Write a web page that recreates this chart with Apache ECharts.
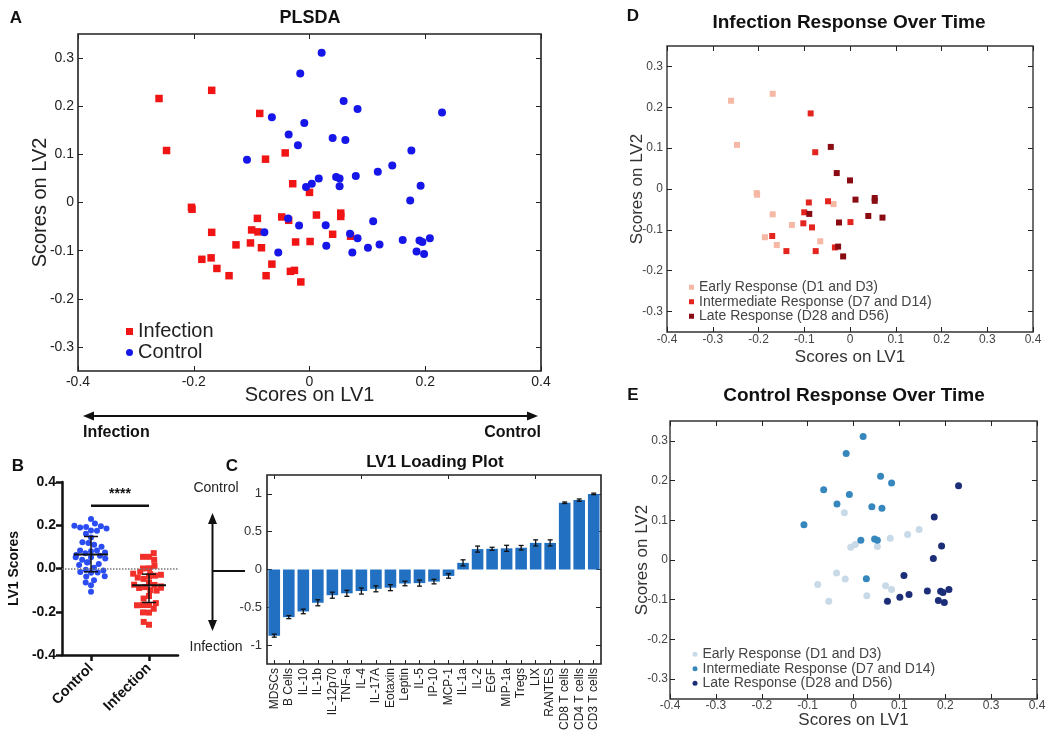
<!DOCTYPE html>
<html><head><meta charset="utf-8">
<script src="https://cdn.jsdelivr.net/npm/echarts@6/dist/echarts.min.js"></script>
<style>html,body{margin:0;padding:0;background:#fff}#c{width:1050px;height:735px}</style>
</head><body><div id="c"></div>
<script>
// ---------- DATA ----------
// Infection samples: [LV1, LV2] by time group
const infEarly = [[-0.260,0.216],[-0.169,0.233],[-0.247,0.108],[-0.204,-0.010],[-0.203,-0.014],[-0.169,-0.062],[-0.127,-0.088],[-0.186,-0.118],[-0.160,-0.137],[-0.065,-0.128],[-0.036,-0.037]];
const infInter = [[-0.086,0.185],[-0.076,0.090],[-0.090,-0.033],[-0.048,-0.030],[-0.100,-0.057],[-0.102,-0.084],[-0.083,-0.094],[-0.170,-0.115],[-0.139,-0.152],[-0.075,-0.152],[0.001,-0.081],[-0.033,-0.143]];
const infLate = [[-0.042,0.103],[-0.029,0.039],[0.000,0.021],[0.012,-0.026],[0.054,-0.022],[0.054,-0.029],[0.040,-0.066],[0.071,-0.070],[-0.089,-0.061],[-0.024,-0.082],[-0.026,-0.141],[-0.015,-0.165]];
// Control samples
const ctlEarly = [[-0.020,0.119],[0.143,0.077],[0.118,0.064],[0.080,0.055],[-0.006,0.032],[0.004,0.039],[0.052,0.034],[-0.037,-0.033],[-0.018,-0.048],[-0.078,-0.062],[0.070,-0.065],[0.083,-0.074],[-0.054,-0.104],[0.029,-0.090]];
const ctlInter = [[0.021,0.311],[-0.016,0.268],[0.059,0.211],[0.083,0.194],[-0.065,0.177],[-0.009,0.165],[-0.036,0.141],[0.040,0.134],[0.062,0.130],[-0.108,0.089],[0.016,0.050],[0.046,0.053],[0.052,0.050],[0.028,-0.047]];
const ctlLate = [[0.229,0.187],[0.176,0.108],[0.192,0.035],[0.174,0.004],[0.110,-0.039],[0.161,-0.078],[0.190,-0.079],[0.195,-0.082],[0.208,-0.074],[0.121,-0.087],[0.101,-0.094],[0.074,-0.104],[0.185,-0.102],[0.198,-0.107]];
const groupLabels = ['Early Response (D1 and D3)','Intermediate Response (D7 and D14)','Late Response (D28 and D56)'];

// Panel B summary (center line, lower whisker, upper whisker)
const bCats = ['Control','Infection'];
const bCenter = [0.065,-0.077];
const bLow = [-0.015,-0.157];
const bHigh = [0.148,-0.026];
const sigLevel = 0.29;
const sigText = '****';

// Panel C loadings
const loadCats = ['MDSCs','B Cells','IL-10','IL-1b','IL-12p70','TNF-a','IL-4','IL-17A','Eotaxin','Leptin','IL-5','IP-10','MCP-1','IL-1a','IL-2','EGF','MIP-1a','Tregs','LIX','RANTES','CD8 T cells','CD4 T cells','CD3 T cells'];
const loadVals = [-0.875,-0.630,-0.555,-0.440,-0.340,-0.315,-0.285,-0.255,-0.240,-0.185,-0.180,-0.160,-0.085,0.088,0.270,0.274,0.280,0.288,0.352,0.352,0.883,0.918,1.000];
const loadErr = [0.02,0.02,0.03,0.04,0.04,0.04,0.04,0.04,0.04,0.03,0.04,0.03,0.03,0.04,0.04,0.02,0.04,0.03,0.04,0.04,0.01,0.015,0.01];

// tick labels
const aYTicks = [-0.3,-0.2,-0.1,0,0.1,0.2,0.3];
const cYTicks = [-1,-0.5,0,0.5,1];

// ---------- CHART ----------
const FONT = '"Liberation Sans", Arial, Helvetica, sans-serif';
const infection = infEarly.concat(infInter, infLate);
const control = ctlEarly.concat(ctlInter, ctlLate);
const fmt1 = v => String(Math.round(v*10)/10);

function boxAxes(grid, xOpt, yOpt, labelColor, labelSize) {
  const tick = {show:true, inside:true, length:5, lineStyle:{color:'#222', width:1}};
  const xs = [
    Object.assign({type:'value', gridIndex:grid, position:'bottom', nameMoveOverlap:false, axisLine:{show:false, onZero:false}, axisTick:tick, splitLine:{show:false},
      axisLabel:{color:labelColor, fontSize:labelSize, fontFamily:FONT, margin:xOpt.margin, formatter:fmt1}}, xOpt.base),
    {type:'value', gridIndex:grid, position:'top', min:xOpt.base.min, max:xOpt.base.max, interval:xOpt.base.interval,
      axisLine:{show:false, onZero:false}, axisTick:tick, splitLine:{show:false}, axisLabel:{show:false}}
  ];
  const ys = [
    Object.assign({type:'value', gridIndex:grid, position:'left', nameMoveOverlap:false, axisLine:{show:false, onZero:false}, axisTick:Object.assign({}, tick, {customValues:yOpt.ticks}), splitLine:{show:false},
      axisLabel:{color:labelColor, fontSize:labelSize, fontFamily:FONT, margin:yOpt.margin, formatter:fmt1, customValues:yOpt.ticks}}, yOpt.base),
    {type:'value', gridIndex:grid, position:'right', min:yOpt.base.min, max:yOpt.base.max,
      axisLine:{show:false, onZero:false}, axisTick:Object.assign({}, tick, {customValues:yOpt.ticks}), splitLine:{show:false}, axisLabel:{show:false}}
  ];
  return {xs, ys};
}

const A = boxAxes(0,
  {margin:4, base:{min:-0.4, max:0.4, interval:0.2, name:'Scores on LV1', nameLocation:'middle', nameGap:14.5, nameTextStyle:{fontSize:20, color:'#222', fontFamily:FONT}}},
  {margin:4, ticks:aYTicks, base:{min:-0.35, max:0.35, name:'Scores on LV2', nameLocation:'middle', nameGap:28, nameTextStyle:{fontSize:20, color:'#222', fontFamily:FONT}}},
  '#222', 14);
const D = boxAxes(3,
  {margin:2, base:{min:-0.4, max:0.4, interval:0.1, name:'Scores on LV1', nameLocation:'middle', nameGap:16.5, nameTextStyle:{fontSize:17, color:'#333', fontFamily:FONT}}},
  {margin:4, ticks:aYTicks, base:{min:-0.35, max:0.35, name:'Scores on LV2', nameLocation:'middle', nameGap:21.5, nameTextStyle:{fontSize:17, color:'#333', fontFamily:FONT}}},
  '#444', 12);
const E = boxAxes(4,
  {margin:1, base:{min:-0.4, max:0.4, interval:0.1, name:'Scores on LV1', nameLocation:'middle', nameGap:13, nameTextStyle:{fontSize:17, color:'#333', fontFamily:FONT}}},
  {margin:2, ticks:aYTicks, base:{min:-0.35, max:0.35, name:'Scores on LV2', nameLocation:'middle', nameGap:19.5, nameTextStyle:{fontSize:17, color:'#333', fontFamily:FONT}}},
  '#444', 12);

const xAxes = [
  A.xs[0], A.xs[1],
  {type:'category', gridIndex:1, data:bCats, jitter:34, jitterOverlap:false, jitterMargin:0,
    axisLine:{show:true, onZero:false, lineStyle:{color:'#111', width:2.5}},
    axisTick:{show:true, alignWithLabel:true, length:6, lineStyle:{color:'#111', width:2.5}},
    axisLabel:{rotate:45, fontSize:14.5, fontWeight:'bold', color:'#111', fontFamily:FONT, margin:11}},
  {type:'category', gridIndex:2, data:loadCats, position:'bottom',
    axisLine:{show:false, onZero:false}, axisTick:{show:true, inside:true, alignWithLabel:true, length:4, lineStyle:{color:'#222'}},
    axisLabel:{rotate:90, fontSize:12, color:'#222', fontFamily:FONT, margin:4, interval:0}},
  {type:'category', gridIndex:2, data:loadCats, position:'top',
    axisLine:{show:false, onZero:false}, axisTick:{show:true, inside:true, alignWithLabel:true, length:4, lineStyle:{color:'#222'}},
    axisLabel:{show:false}},
  D.xs[0], D.xs[1], E.xs[0], E.xs[1]
];
const yAxes = [
  A.ys[0], A.ys[1],
  {type:'value', gridIndex:1, min:-0.4, max:0.4, interval:0.2, splitLine:{show:false}, nameMoveOverlap:false,
    axisLine:{show:true, lineStyle:{color:'#111', width:2.5}},
    axisTick:{show:true, length:6, lineStyle:{color:'#111', width:2.5}},
    axisLabel:{fontSize:14, fontWeight:'bold', color:'#111', fontFamily:FONT, formatter:v=>v.toFixed(1), margin:6},
    name:'LV1 Scores', nameLocation:'middle', nameGap:41, nameTextStyle:{fontSize:14, fontWeight:'bold', color:'#111', fontFamily:FONT}},
  {type:'value', gridIndex:2, min:-1.25, max:1.25, position:'left', splitLine:{show:false}, axisLine:{show:false},
    axisTick:{show:true, inside:true, length:5, customValues:cYTicks, lineStyle:{color:'#222'}},
    axisLabel:{customValues:cYTicks, fontSize:13, color:'#333', fontFamily:FONT, margin:5, formatter:v=>String(v)}},
  {type:'value', gridIndex:2, min:-1.25, max:1.25, position:'right', splitLine:{show:false}, axisLine:{show:false},
    axisTick:{show:true, inside:true, length:5, customValues:cYTicks, lineStyle:{color:'#222'}}, axisLabel:{show:false}},
  D.ys[0], D.ys[1], E.ys[0], E.ys[1]
];

const gridStyle = {show:true, borderColor:'#222', borderWidth:1.6, backgroundColor:'transparent'};
const grids = [
  Object.assign({left:78, top:34, width:463, height:337}, gridStyle),
  {left:62, top:482, width:116, height:173},
  Object.assign({left:267, top:475, width:334, height:189}, gridStyle),
  Object.assign({left:667, top:46, width:366, height:286}, gridStyle, {borderColor:'#333', borderWidth:1.4}),
  Object.assign({left:670, top:421, width:367, height:278}, gridStyle, {borderColor:'#333', borderWidth:1.4})
];

const infColors = ['#f5b8a5','#e3241f','#8a0c12'];
const ctlColors = ['#c8d9e7','#3587bd','#1c2e78'];
const dNames = ['D-early','D-inter','D-late'];
const eNames = ['E-early','E-inter','E-late'];
const legendMap = {};
dNames.forEach((n,i)=>legendMap[n]=groupLabels[i]);
eNames.forEach((n,i)=>legendMap[n]=groupLabels[i]);

const series = [
  {name:'Infection', type:'scatter', xAxisIndex:0, yAxisIndex:0, data:infection, symbol:'rect', symbolSize:7.5, itemStyle:{color:'#f01414', opacity:1}},
  {name:'Control', type:'scatter', xAxisIndex:0, yAxisIndex:0, data:control, symbol:'circle', symbolSize:8, itemStyle:{color:'#1616e8', opacity:1}},
  {name:'B-Control', type:'scatter', xAxisIndex:2, yAxisIndex:2, data:control.map(p=>['Control', p[0]]), symbol:'circle', symbolSize:6, itemStyle:{color:'#2a4cf2', opacity:1},
    markLine:{silent:true, symbol:'none', label:{show:false}, data:[{yAxis:0}], lineStyle:{type:'dotted', color:'#777', width:1.5}}},
  {name:'B-Infection', type:'scatter', xAxisIndex:2, yAxisIndex:2, data:infection.map(p=>['Infection', p[0]]), symbol:'rect', symbolSize:6, itemStyle:{color:'#f2302a', opacity:1}},
  {name:'B-stats', type:'custom', xAxisIndex:2, yAxisIndex:2, z:5,
    data:bCats.map((c,i)=>[i, bCenter[i], bLow[i], bHigh[i]]), encode:{x:0, y:[1,2,3]},
    renderItem:(params, api)=>{
      const c = api.coord([api.value(0), api.value(1)]);
      const lo = api.coord([api.value(0), api.value(2)]);
      const hi = api.coord([api.value(0), api.value(3)]);
      const st = {stroke:'#111', lineWidth:2};
      return {type:'group', children:[
        {type:'line', shape:{x1:c[0]-17, y1:c[1], x2:c[0]+17, y2:c[1]}, style:st},
        {type:'line', shape:{x1:c[0], y1:lo[1], x2:c[0], y2:hi[1]}, style:{stroke:'#111', lineWidth:1.5}},
        {type:'line', shape:{x1:c[0]-7, y1:lo[1], x2:c[0]+7, y2:lo[1]}, style:{stroke:'#111', lineWidth:1.5}},
        {type:'line', shape:{x1:c[0]-7, y1:hi[1], x2:c[0]+7, y2:hi[1]}, style:{stroke:'#111', lineWidth:1.5}}
      ]};
    }},
  {name:'B-sig', type:'custom', xAxisIndex:2, yAxisIndex:2, z:5, data:[[0,1,sigLevel]], encode:{x:[0,1], y:2},
    renderItem:(params, api)=>{
      const a = api.coord([api.value(0), api.value(2)]);
      const b = api.coord([api.value(1), api.value(2)]);
      return {type:'group', children:[
        {type:'line', shape:{x1:a[0], y1:a[1], x2:b[0], y2:b[1]}, style:{stroke:'#111', lineWidth:2.5}},
        {type:'text', x:(a[0]+b[0])/2, y:a[1]-5, style:{text:sigText, fill:'#111', font:'bold 14px '+FONT, textAlign:'center', textVerticalAlign:'bottom', align:'center', verticalAlign:'bottom'}}
      ]};
    }},
  {name:'Loadings', type:'bar', xAxisIndex:3, yAxisIndex:3, data:loadVals, barCategoryGap:'20%', itemStyle:{color:'#2170c2'}},
  {name:'Load-err', type:'custom', xAxisIndex:3, yAxisIndex:3, z:5,
    data:loadVals.map((v,i)=>[i, v-loadErr[i], v+loadErr[i]]), encode:{x:0, y:[1,2]},
    renderItem:(params, api)=>{
      const lo = api.coord([api.value(0), api.value(1)]);
      const hi = api.coord([api.value(0), api.value(2)]);
      const st = {stroke:'#111', lineWidth:1.3};
      return {type:'group', children:[
        {type:'line', shape:{x1:lo[0], y1:lo[1], x2:hi[0], y2:hi[1]}, style:st},
        {type:'line', shape:{x1:lo[0]-2.5, y1:lo[1], x2:lo[0]+2.5, y2:lo[1]}, style:st},
        {type:'line', shape:{x1:hi[0]-2.5, y1:hi[1], x2:hi[0]+2.5, y2:hi[1]}, style:st}
      ]};
    }}
];
[infEarly, infInter, infLate].forEach((d,i)=>series.push({name:dNames[i], type:'scatter', xAxisIndex:5, yAxisIndex:5, data:d, symbol:'rect', symbolSize:6, itemStyle:{color:infColors[i], opacity:1}}));
[ctlEarly, ctlInter, ctlLate].forEach((d,i)=>series.push({name:eNames[i], type:'scatter', xAxisIndex:7, yAxisIndex:7, data:d, symbol:'circle', symbolSize:7, itemStyle:{color:ctlColors[i], opacity:1}}));

function txt(text, x, y, size, weight, align, color) {
  return {type:'text', x:x, y:y, silent:true, style:{text:text, fill:color||'#111', font:(weight||'normal')+' '+size+'px '+FONT,
    textAlign:align||'center', textVerticalAlign:'middle', align:align||'center', verticalAlign:'middle'}};
}
const graphics = [
  txt('A', 16, 18, 17, 'bold'), txt('B', 18, 466, 17, 'bold'), txt('C', 232, 466, 17, 'bold'),
  txt('D', 633, 16, 17, 'bold'), txt('E', 633, 395, 17, 'bold'),
  txt('PLSDA', 310, 18, 18, 'bold'),
  txt('LV1 Loading Plot', 435, 462, 17, 'bold'),
  txt('Infection Response Over Time', 849, 23, 19, 'bold'),
  txt('Control Response Over Time', 854, 396, 19, 'bold'),
  // arrow under A
  {type:'line', silent:true, shape:{x1:90, y1:416, x2:531, y2:416}, style:{stroke:'#111', lineWidth:2}},
  {type:'polygon', silent:true, shape:{points:[[83,416],[94,411.5],[94,420.5]]}, style:{fill:'#111'}},
  {type:'polygon', silent:true, shape:{points:[[538,416],[527,411.5],[527,420.5]]}, style:{fill:'#111'}},
  txt('Infection', 83, 433, 16, 'bold', 'left'),
  txt('Control', 541, 433, 16, 'bold', 'right'),
  // arrow left of C
  {type:'line', silent:true, shape:{x1:212.5, y1:520, x2:212.5, y2:624}, style:{stroke:'#111', lineWidth:2}},
  {type:'polygon', silent:true, shape:{points:[[212.5,513],[208,524],[217,524]]}, style:{fill:'#111'}},
  {type:'polygon', silent:true, shape:{points:[[212.5,631],[208,620],[217,620]]}, style:{fill:'#111'}},
  {type:'line', silent:true, shape:{x1:212.5, y1:571, x2:245, y2:571}, style:{stroke:'#111', lineWidth:2}},
  txt('Control', 216, 488, 14, 'normal', 'center', '#222'),
  txt('Infection', 216, 647, 14, 'normal', 'center', '#222')
];

const option = {
  animation:false,
  backgroundColor:'#fff',
  textStyle:{fontFamily:FONT},
  grid:grids, xAxis:xAxes, yAxis:yAxes, series:series, graphic:graphics,
  legend:[
    {data:['Infection','Control'], orient:'vertical', left:121, top:316, itemWidth:7, itemHeight:7, itemGap:0, selectedMode:false,
      textStyle:{fontSize:20, color:'#222', lineHeight:21, fontFamily:FONT}},
    {data:dNames, formatter:n=>legendMap[n], orient:'vertical', left:684, top:275, itemWidth:5, itemHeight:5, itemGap:0, selectedMode:false,
      textStyle:{fontSize:14, color:'#444', lineHeight:14.5, fontFamily:FONT}},
    {data:eNames, formatter:n=>legendMap[n], orient:'vertical', left:687.5, top:642, itemWidth:5, itemHeight:5, itemGap:0, selectedMode:false,
      textStyle:{fontSize:14, color:'#444', lineHeight:14.5, fontFamily:FONT}}
  ]
};
const chart = echarts.init(document.getElementById('c'));
chart.setOption(option);
</script></body></html>
